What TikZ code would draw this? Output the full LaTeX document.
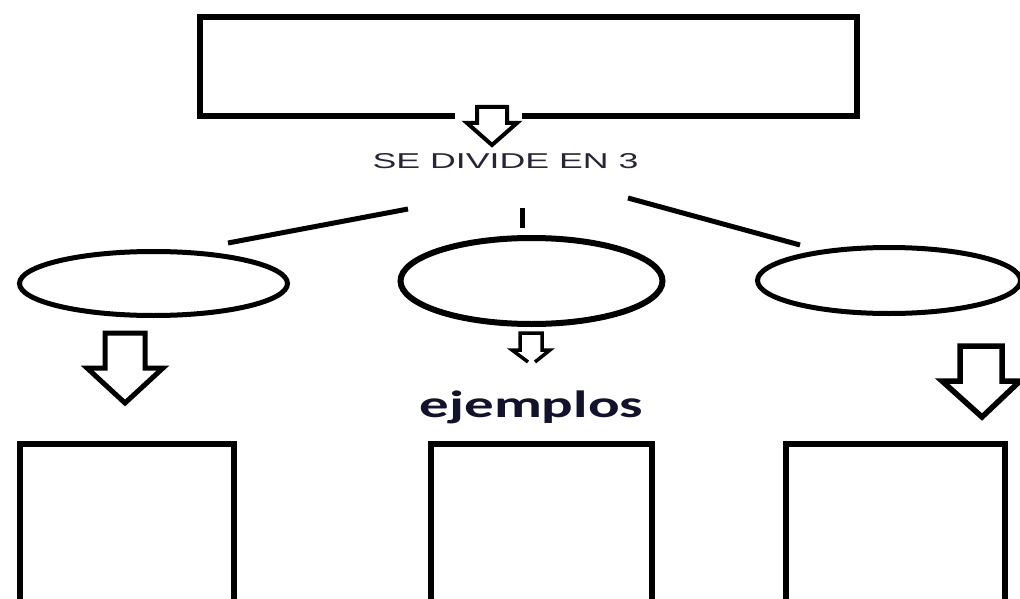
\documentclass[tikz,border=0pt]{standalone}
\usepackage{fontspec}
\setmainfont{Liberation Sans}
\newfontfamily\ejfont{Carlito}
\usetikzlibrary{shapes.geometric}

\definecolor{textgray}{RGB}{38,38,56}
\definecolor{textnavy}{RGB}{18,18,42}

\begin{document}
\begin{tikzpicture}[x=1pt,y=-1pt,
  box/.style={draw,line width=5.5pt,inner sep=0pt},
  oval/.style={draw,ellipse,line width=5pt,inner sep=0pt},
  hollowarrow/.style={draw,fill=white,line width=4.5pt,line join=miter},
  link/.style={line width=5pt}]

  % Picture frame, the lower boxes run past the bottom edge
  \useasboundingbox (0,0) rectangle (1020,599);
  \clip (0,0) rectangle (1020,599);

  % Top box
  \node[box,minimum width=657pt,minimum height=99pt] (top) at (528.5,66.5) {};
  % Gap in its lower edge for the arrow
  \fill[white] (455,110) rectangle (522,124);

  % Arrow under the top box
  \draw[hollowarrow,line width=4pt] (477,107) -- (507,107) -- (507,123) -- (517,123)
    -- (492,145) -- (467,123) -- (477,123) -- cycle;

  % Text under the arrow
  \node[anchor=base,xscale=1.66,text=textgray,font=\fontsize{21.5}{21.5}\selectfont,inner sep=0pt]
    (divide) at (505.5,168) {SE DIVIDE EN 3};

  % The three ellipses
  \node[oval,minimum width=268pt,minimum height=64pt] (left) at (153.5,283.5) {};
  \node[oval,line width=6pt,minimum width=262pt,minimum height=86pt] (mid) at (531.5,281) {};
  \node[oval,minimum width=263pt,minimum height=66pt] (right) at (889,280.5) {};

  % Short lines from the text to the ellipses
  \coordinate (la) at (408,209);
  \coordinate (lb) at (228,243);
  \coordinate (ma) at (522,208);
  \coordinate (mb) at (522,228);
  \coordinate (ra) at (628,198);
  \coordinate (rb) at (800,245);
  \draw[link] (la) -- (lb);
  \draw[link] (ma) -- (mb);
  \draw[link] (ra) -- (rb);

  % Arrow under the left ellipse
  \draw[hollowarrow,line width=5pt] (105,333) -- (145,333) -- (145,368) -- (163,368)
    -- (125,403) -- (87,368) -- (105,368) -- cycle;

  % Small arrow under the middle ellipse, its tip left open
  \draw[hollowarrow,line width=3.5pt] (528,362) -- (512,350) -- (520,350) -- (520,333)
    -- (542,333) -- (542,350) -- (550,350) -- (535,362);

  % Arrow under the right ellipse
  \draw[hollowarrow,line width=5.5pt] (960,346) -- (1002,346) -- (1002,381) -- (1020,381)
    -- (982,417) -- (942,381) -- (960,381) -- cycle;

  % Middle label
  \node[anchor=base,xscale=1.55,text=textnavy,font=\ejfont\bfseries\fontsize{38}{38}\selectfont,inner sep=0pt]
    (examples) at (531.5,417) {ejemplos};

  % The three lower boxes
  \node[box,minimum width=214pt,minimum height=200pt] (boxl) at (127,544) {};
  \node[box,minimum width=221pt,minimum height=200pt] (boxm) at (541.5,544) {};
  \node[box,minimum width=219pt,minimum height=200pt] (boxr) at (895.5,544) {};

\end{tikzpicture}
\end{document}
